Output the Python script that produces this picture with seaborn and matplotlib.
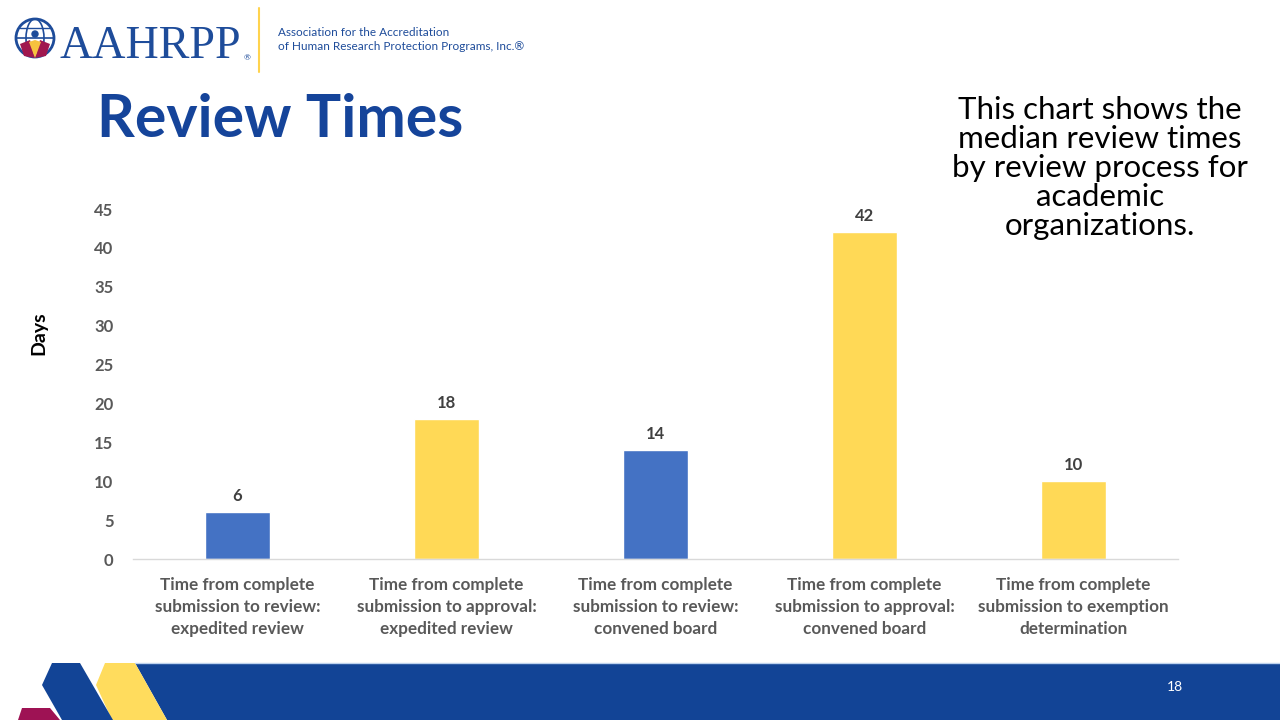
import matplotlib
matplotlib.use("Agg")
import matplotlib.pyplot as plt
from matplotlib.patches import Polygon, Circle, Ellipse
import seaborn as sns
import pandas as pd

# ---- data ----
categories = [
    "Time from complete\nsubmission to review:\nexpedited review",
    "Time from complete\nsubmission to approval:\nexpedited review",
    "Time from complete\nsubmission to review:\nconvened board",
    "Time from complete\nsubmission to approval:\nconvened board",
    "Time from complete\nsubmission to exemption\ndetermination",
]
values = [6, 18, 14, 42, 10]
groups = ["review", "approval", "review", "approval", "approval"]
y_ticks = [0, 5, 10, 15, 20, 25, 30, 35, 40, 45]

BLUE = "#4472C4"
YELLOW = "#FFD956"
DARK_BLUE = "#15449A"
GRAY = "#595959"

sns.set_theme(style="white")
plt.rcParams["font.family"] = ["Lato", "DejaVu Sans"]

fig = plt.figure(figsize=(12.8, 7.2), dpi=100)

df = pd.DataFrame({"category": categories, "value": values, "group": groups})

ax = fig.add_axes([133 / 1280, 1 - 559 / 720, 1045 / 1280, 350 / 720])
sns.barplot(data=df, x="category", y="value", hue="group",
            palette={"review": BLUE, "approval": YELLOW},
            width=0.31, dodge=False, legend=False, ax=ax, saturation=1)
for c in ax.containers:
    ax.bar_label(c, padding=6, fontsize=12, fontweight="bold", color="#404040")

ax.set_ylim(0, 45)
ax.set_xlim(-0.5, 4.5)
ax.set_yticks(y_ticks)
ax.set_yticklabels([str(t) for t in y_ticks])
ax.tick_params(axis="y", length=0, pad=14, labelsize=12, labelcolor=GRAY)
ax.tick_params(axis="x", length=0, pad=13, labelsize=12.3, labelcolor=GRAY)
for lbl in ax.get_xticklabels() + ax.get_yticklabels():
    lbl.set_fontweight("bold")
for lbl in ax.get_xticklabels():
    lbl.set_linespacing(1.45)
ax.set_xlabel("")
ax.set_ylabel("Days", fontsize=14, fontweight="bold", color="black")
ax.yaxis.set_label_coords(-0.082, 0.646)
for s in ["top", "right", "left"]:
    ax.spines[s].set_visible(False)
ax.spines["bottom"].set_color("#D9D9D9")
ax.spines["bottom"].set_linewidth(1.0)
ax.grid(False)
ax.set_facecolor("none")

# ---- slide decorations (pixel coordinate overlay) ----
deco = fig.add_axes([0, 0, 1, 1], zorder=-1)
deco.set_xlim(0, 1280)
deco.set_ylim(720, 0)
deco.axis("off")

# bottom banner
deco.add_patch(Polygon([(135, 663), (1280, 663), (1280, 720), (167, 720)],
                       closed=True, color="#124496", lw=0))
deco.plot([135, 1280], [662.5, 662.5], color="#BFD3EE", lw=1)
deco.add_patch(Polygon([(22, 708), (50, 708), (60, 720), (18, 720)],
                       closed=True, color="#9E1254", lw=0))
deco.add_patch(Polygon([(105, 663), (135, 663), (167, 720), (112, 720), (96, 685)],
                       closed=True, color="#FFDC5D", lw=0))
deco.add_patch(Polygon([(52, 663), (80, 663), (113, 720), (62, 720), (42, 685)],
                       closed=True, color="#124496", lw=0))
deco.text(1175, 687, "18", color="white", fontsize=10, ha="center", va="center")

# logo
deco.add_patch(Circle((35, 38), 19, fill=False, ec="#1E4C9A", lw=2))
deco.add_patch(Ellipse((35, 38), 18, 38, fill=False, ec="#1E4C9A", lw=1.2))
deco.plot([16, 54], [38, 38], color="#1E4C9A", lw=1.2)
deco.plot([20, 50], [28, 28], color="#1E4C9A", lw=1.0)
deco.add_patch(Polygon([(20, 44), (30, 40), (35, 58), (24, 56)], color="#A0174E", lw=0))
deco.add_patch(Polygon([(50, 44), (40, 40), (35, 58), (46, 56)], color="#A0174E", lw=0))
deco.add_patch(Polygon([(29, 42), (35, 40), (41, 42), (35, 58)], color="#F6C23E", lw=0))
deco.add_patch(Circle((35, 34), 3, color="#1E4C9A"))
deco.text(60, 58, "AAHRPP", family=["Liberation Serif", "DejaVu Serif"],
          fontsize=33, color="#1E4C9A", ha="left", va="baseline")
deco.text(247, 60, "®", fontsize=6, color="#1E4C9A", ha="center", va="baseline")
deco.plot([259, 259], [8, 72], color="#FFD34E", lw=1.5)
deco.text(278, 32, "Association for the Accreditation", fontsize=8.5,
          color="#1E4C9A", ha="left", va="center")
deco.text(278, 46, "of Human Research Protection Programs, Inc.®", fontsize=8.5,
          color="#1E4C9A", ha="left", va="center")

# title
deco.text(97, 137, "Review Times", fontsize=42.5, fontweight="bold",
          color=DARK_BLUE, ha="left", va="baseline")

# side note
deco.text(1100, 168, "This chart shows the\nmedian review times\nby review process for\nacademic\norganizations.",
          fontsize=22.5, color="black", ha="center", va="center", linespacing=1.05)

fig.savefig("out.png", dpi=100)
